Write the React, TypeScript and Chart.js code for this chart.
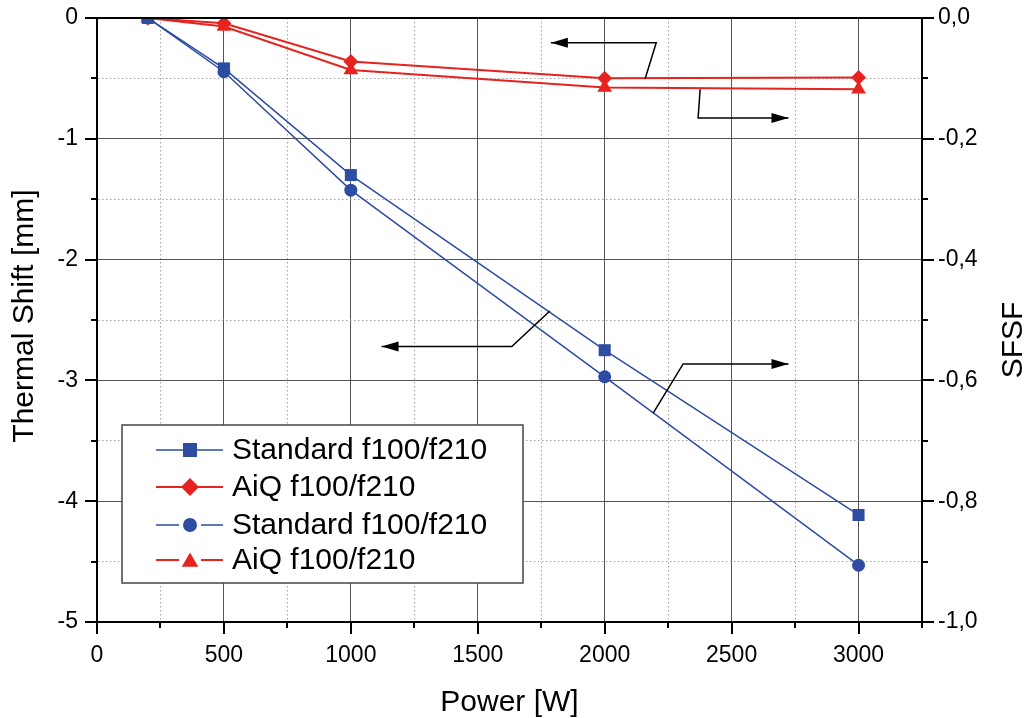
import React, { useEffect, useRef } from 'react';
import { Chart, registerables } from 'chart.js';

Chart.register(...registerables);

// ---------- data ----------
const powerW = [200, 500, 1000, 2000, 3000];
const standardShiftMm = [0, -0.417, -1.3, -2.75, -4.114];
const aiqShiftMm = [0, -0.044, -0.36, -0.499, -0.493];
const standardSFSF = [0, -0.089, -0.285, -0.594, -0.906];
const aiqSFSF = [0, -0.014, -0.086, -0.115, -0.118];

const seriesLabels = ['Standard f100/f210', 'AiQ f100/f210', 'Standard f100/f210', 'AiQ f100/f210'];

// ---------- axes ----------
const xTickValues = [0, 250, 500, 750, 1000, 1250, 1500, 1750, 2000, 2250, 2500, 2750, 3000, 3250];
const xLabelValues = [0, 500, 1000, 1500, 2000, 2500, 3000];
const yTickValues = [0, -0.5, -1, -1.5, -2, -2.5, -3, -3.5, -4, -4.5, -5];
const yLabelValues = [0, -1, -2, -3, -4, -5];
const y1TickValues = [0, -0.1, -0.2, -0.3, -0.4, -0.5, -0.6, -0.7, -0.8, -0.9, -1];
const y1LabelValues = [0, -0.2, -0.4, -0.6, -0.8, -1];
const y1LabelTexts = ['0,0', '-0,2', '-0,4', '-0,6', '-0,8', '-1,0'];

const xTitle = 'Power [W]';
const yTitle = 'Thermal Shift [mm]';
const y1Title = 'SFSF';

// annotation arrows (x in W, y in mm on the left axis); last point is the arrow tip
const arrowPaths = [
  [[2159, -0.505], [2203, -0.205], [1788, -0.205]],
  [[2376, -0.59], [2368, -0.828], [2724, -0.828]],
  [[1784, -2.425], [1634, -2.72], [1121, -2.72]],
  [[2191, -3.27], [2309, -2.864], [2724, -2.864]],
];

const BLUE = '#2d4ca2';
const RED = '#e6231f';
const FONT = '"Liberation Sans", Arial, sans-serif';

const near = (v: number, arr: number[]) => arr.some((a) => Math.abs(a - v) < 1e-6);

function shapePath(ctx: CanvasRenderingContext2D, style: string, x: number, y: number, r: number) {
  ctx.beginPath();
  if (style === 'rect') {
    ctx.rect(x - r, y - r, 2 * r, 2 * r);
  } else if (style === 'rectRot') {
    ctx.moveTo(x - r, y);
    ctx.lineTo(x, y - r);
    ctx.lineTo(x + r, y);
    ctx.lineTo(x, y + r);
    ctx.closePath();
  } else if (style === 'circle') {
    ctx.arc(x, y, r, 0, Math.PI * 2);
  } else if (style === 'triangle') {
    let a = 0;
    ctx.moveTo(x + Math.sin(a) * r, y - Math.cos(a) * r);
    a += (2 * Math.PI) / 3;
    ctx.lineTo(x + Math.sin(a) * r, y - Math.cos(a) * r);
    a += (2 * Math.PI) / 3;
    ctx.lineTo(x + Math.sin(a) * r, y - Math.cos(a) * r);
    ctx.closePath();
  }
}

const overlayPlugin = {
  id: 'overlay',
  afterDraw(chart: any) {
    const { ctx, chartArea: a, scales } = chart;
    const sx = scales.x;
    const sy = scales.y;
    const sy1 = scales.y1;
    ctx.save();

    // top frame line
    ctx.strokeStyle = '#000';
    ctx.lineWidth = 2;
    ctx.beginPath();
    ctx.moveTo(a.left - 1, a.top);
    ctx.lineTo(a.right + 1, a.top);
    ctx.stroke();

    // tick marks
    ctx.lineWidth = 2;
    sx.ticks.forEach((t: any) => {
      const px = Math.round(sx.getPixelForValue(t.value));
      const len = near(t.value, xLabelValues) ? 12 : 6;
      ctx.beginPath();
      ctx.moveTo(px, a.bottom);
      ctx.lineTo(px, a.bottom + len);
      ctx.stroke();
    });
    sy.ticks.forEach((t: any) => {
      const py = Math.round(sy.getPixelForValue(t.value));
      const len = near(t.value, yLabelValues) ? 12 : 6;
      ctx.beginPath();
      ctx.moveTo(a.left - len, py);
      ctx.lineTo(a.left, py);
      ctx.stroke();
    });
    sy1.ticks.forEach((t: any) => {
      const py = Math.round(sy1.getPixelForValue(t.value));
      const len = near(t.value, y1LabelValues) ? 12 : 6;
      ctx.beginPath();
      ctx.moveTo(a.right, py);
      ctx.lineTo(a.right + len, py);
      ctx.stroke();
    });

    // tick labels
    ctx.fillStyle = '#000';
    ctx.font = `23px ${FONT}`;
    ctx.textAlign = 'center';
    ctx.textBaseline = 'alphabetic';
    xLabelValues.forEach((v) => {
      ctx.fillText(String(v), sx.getPixelForValue(v), a.bottom + 40);
    });
    ctx.textAlign = 'right';
    ctx.textBaseline = 'middle';
    yLabelValues.forEach((v) => {
      ctx.fillText(String(v), a.left - 19, sy.getPixelForValue(v));
    });
    ctx.textAlign = 'left';
    y1LabelValues.forEach((v, i) => {
      ctx.fillText(y1LabelTexts[i], a.right + 16, sy1.getPixelForValue(v));
    });

    // axis titles
    ctx.font = `30px ${FONT}`;
    ctx.textAlign = 'center';
    ctx.textBaseline = 'alphabetic';
    ctx.fillText(xTitle, (a.left + a.right) / 2, a.bottom + 89);
    ctx.save();
    ctx.translate(33, 316);
    ctx.rotate(-Math.PI / 2);
    ctx.fillText(yTitle, 0, 0);
    ctx.restore();
    ctx.save();
    ctx.translate(1022, 340);
    ctx.rotate(-Math.PI / 2);
    ctx.fillText(y1Title, 0, 0);
    ctx.restore();

    // arrows
    ctx.strokeStyle = '#000';
    ctx.fillStyle = '#000';
    ctx.lineWidth = 1.5;
    arrowPaths.forEach((path) => {
      const pts = path.map(([vx, vy]) => [sx.getPixelForValue(vx), sy.getPixelForValue(vy)]);
      ctx.beginPath();
      ctx.moveTo(pts[0][0], pts[0][1]);
      for (let i = 1; i < pts.length; i++) ctx.lineTo(pts[i][0], pts[i][1]);
      ctx.stroke();
      const [x1, y1] = pts[pts.length - 2];
      const [x2, y2] = pts[pts.length - 1];
      const ang = Math.atan2(y2 - y1, x2 - x1);
      const L = 17;
      const W = 5;
      ctx.beginPath();
      ctx.moveTo(x2, y2);
      ctx.lineTo(x2 - L * Math.cos(ang) + W * Math.sin(ang), y2 - L * Math.sin(ang) - W * Math.cos(ang));
      ctx.lineTo(x2 - L * Math.cos(ang) - W * Math.sin(ang), y2 - L * Math.sin(ang) + W * Math.cos(ang));
      ctx.closePath();
      ctx.fill();
    });

    // legend
    const bx = 122, by = 425, bw = 401, bh = 158;
    ctx.fillStyle = '#fff';
    ctx.fillRect(bx, by, bw, bh);
    ctx.strokeStyle = '#444';
    ctx.lineWidth = 1.5;
    ctx.strokeRect(bx, by, bw, bh);
    const rows = [450, 487, 525, 560];
    const legendShapes = [
      { style: 'rect', r: 7, gap: false },
      { style: 'rectRot', r: 9, gap: false },
      { style: 'circle', r: 7, gap: true },
      { style: 'triangle', r: 9.5, gap: true },
    ];
    chart.data.datasets.forEach((ds: any, i: number) => {
      const y = rows[i];
      const sh = legendShapes[i];
      ctx.strokeStyle = ds.borderColor;
      ctx.lineWidth = ds.borderWidth;
      ctx.beginPath();
      if (sh.gap) {
        ctx.moveTo(156, y);
        ctx.lineTo(179, y);
        ctx.moveTo(201, y);
        ctx.lineTo(223, y);
      } else {
        ctx.moveTo(156, y);
        ctx.lineTo(223, y);
      }
      ctx.stroke();
      ctx.fillStyle = ds.backgroundColor;
      shapePath(ctx, sh.style, 190, sh.style === 'triangle' ? y + 2 : y, sh.r);
      ctx.fill();
      ctx.fillStyle = '#000';
      ctx.font = `30px ${FONT}`;
      ctx.textAlign = 'left';
      ctx.textBaseline = 'middle';
      ctx.fillText(ds.label, 232, y + 1);
    });

    ctx.restore();
  },
};

const gridColor = (majors: number[]) => (c: any) =>
  c.tick && near(c.tick.value, majors) ? '#555' : '#a0a0a0';
const gridDash = (majors: number[]) => (c: any) =>
  c.tick && !near(c.tick.value, majors) ? [1.5, 2.5] : [];

export default function App() {
  const canvasRef = useRef<HTMLCanvasElement | null>(null);

  useEffect(() => {
    if (!canvasRef.current) return;
    const mk = (vals: number[]) => powerW.map((x, i) => ({ x, y: vals[i] }));
    const chart = new Chart(canvasRef.current, {
      type: 'line',
      data: {
        datasets: [
          {
            label: seriesLabels[0],
            data: mk(standardShiftMm),
            yAxisID: 'y',
            borderColor: BLUE,
            backgroundColor: BLUE,
            borderWidth: 1.5,
            pointStyle: 'rect',
            pointRadius: 8.5,
            pointBorderWidth: 0,
          },
          {
            label: seriesLabels[1],
            data: mk(aiqShiftMm),
            yAxisID: 'y',
            borderColor: RED,
            backgroundColor: RED,
            borderWidth: 2,
            pointStyle: 'rectRot',
            pointRadius: 7.5,
            pointBorderWidth: 0,
          },
          {
            label: seriesLabels[2],
            data: mk(standardSFSF),
            yAxisID: 'y1',
            borderColor: BLUE,
            backgroundColor: BLUE,
            borderWidth: 1.5,
            pointStyle: 'circle',
            pointRadius: 6.5,
            pointBorderWidth: 0,
          },
          {
            label: seriesLabels[3],
            data: mk(aiqSFSF),
            yAxisID: 'y1',
            borderColor: RED,
            backgroundColor: RED,
            borderWidth: 2,
            pointStyle: 'triangle',
            pointRadius: 8.5,
            pointBorderWidth: 0,
          },
        ],
      },
      options: {
        responsive: false,
        maintainAspectRatio: false,
        animation: false,
        events: [],
        layout: { padding: { top: 18, left: 0, right: 0, bottom: 0 } },
        plugins: { legend: { display: false }, tooltip: { enabled: false } },
        scales: {
          x: {
            type: 'linear',
            position: 'bottom',
            min: 0,
            max: 3250,
            afterBuildTicks: (s: any) => {
              s.ticks = xTickValues.map((v) => ({ value: v }));
            },
            afterFit: (s: any) => {
              s.height = 96;
            },
            ticks: { display: false, autoSkip: false },
            grid: { color: gridColor(xLabelValues), lineWidth: 1, drawTicks: false },
            border: { display: true, color: '#000', width: 2, dash: gridDash(xLabelValues) },
          },
          y: {
            type: 'linear',
            position: 'left',
            min: -5,
            max: 0,
            afterBuildTicks: (s: any) => {
              s.ticks = yTickValues.map((v) => ({ value: v }));
            },
            afterFit: (s: any) => {
              s.width = 97;
            },
            ticks: { display: false, autoSkip: false },
            grid: { color: gridColor(yLabelValues), lineWidth: 1, drawTicks: false },
            border: { display: true, color: '#000', width: 2, dash: gridDash(yLabelValues) },
          },
          y1: {
            type: 'linear',
            position: 'right',
            min: -1,
            max: 0,
            afterBuildTicks: (s: any) => {
              s.ticks = y1TickValues.map((v) => ({ value: v }));
            },
            afterFit: (s: any) => {
              s.width = 106;
            },
            ticks: { display: false, autoSkip: false },
            grid: { drawOnChartArea: false, drawTicks: false },
            border: { display: true, color: '#000', width: 2 },
          },
        },
      },
      plugins: [overlayPlugin],
    } as any);
    return () => chart.destroy();
  }, []);

  return (
    <div style={{ position: 'absolute', left: 0, top: 0, width: 1028, height: 718, background: '#fff' }}>
      <canvas ref={canvasRef} width={1028} height={718} style={{ display: 'block' }} />
    </div>
  );
}
